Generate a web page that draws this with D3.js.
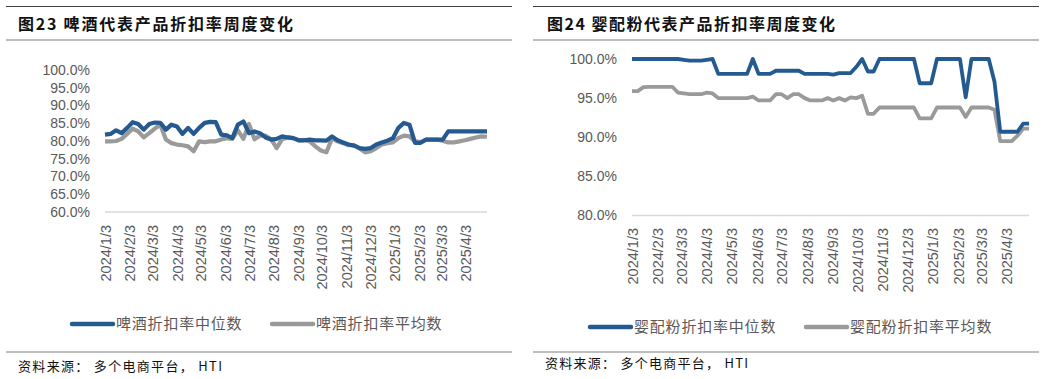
<!DOCTYPE html>
<html><head><meta charset="utf-8">
<script src="https://cdn.jsdelivr.net/npm/d3@7"></script>
<style>
body{margin:0;background:#fff;}
svg{display:block;}
</style></head><body>
<svg id="c" width="1045" height="379"></svg>
<script>
// ---- data ----
const weeks = [
"2024-01-03","2024-01-10","2024-01-17","2024-01-24","2024-01-31","2024-02-07","2024-02-14","2024-02-21","2024-02-28",
"2024-03-06","2024-03-13","2024-03-20","2024-03-27","2024-04-03","2024-04-10","2024-04-17","2024-04-24","2024-05-01",
"2024-05-08","2024-05-15","2024-05-22","2024-05-29","2024-06-05","2024-06-12","2024-06-19","2024-06-26","2024-07-03",
"2024-07-10","2024-07-17","2024-07-24","2024-07-31","2024-08-07","2024-08-14","2024-08-21","2024-08-28","2024-09-04",
"2024-09-11","2024-09-18","2024-09-25","2024-10-02","2024-10-09","2024-10-16","2024-10-23","2024-10-30","2024-11-06",
"2024-11-13","2024-11-20","2024-11-27","2024-12-04","2024-12-11","2024-12-18","2024-12-25","2025-01-01","2025-01-08",
"2025-01-15","2025-01-22","2025-01-29","2025-02-05","2025-02-12","2025-02-19","2025-02-26","2025-03-05","2025-03-12",
"2025-03-19","2025-03-26","2025-04-02","2025-04-09","2025-04-16","2025-04-23","2025-04-30"];

const tickDates = ["2024-01-03","2024-02-03","2024-03-03","2024-04-03","2024-05-03","2024-06-03","2024-07-03","2024-08-03",
"2024-09-03","2024-10-03","2024-11-03","2024-12-03","2025-01-03","2025-02-03","2025-03-03","2025-04-03"];
const tickLabels = ["2024/1/3","2024/2/3","2024/3/3","2024/4/3","2024/5/3","2024/6/3","2024/7/3","2024/8/3",
"2024/9/3","2024/10/3","2024/11/3","2024/12/3","2025/1/3","2025/2/3","2025/3/3","2025/4/3"];

const beerMedian = [81.8,82.0,83.0,82.2,83.7,85.3,84.8,83.2,84.8,85.2,85.1,83.2,84.6,84.1,82.0,83.7,82.0,83.7,85.1,85.4,
85.3,81.8,81.6,80.8,84.6,85.5,82.2,82.7,82.2,81.0,80.4,80.6,81.3,81.0,80.8,80.2,80.2,80.4,80.2,80.2,
80.1,81.3,80.2,79.6,79.0,78.7,78.0,77.8,78.0,79.0,79.6,80.1,80.8,83.7,85.1,84.6,79.5,79.5,80.4,80.4,
80.4,80.4,82.7,82.7,82.7,82.7,82.7,82.7,82.7,82.7];
const beerMean = [79.9,79.9,80.0,80.6,82.0,83.5,82.7,81.0,82.2,83.5,84.6,80.4,79.4,79.0,78.8,78.5,77.1,79.9,79.7,79.9,
79.9,80.4,80.8,80.6,83.0,80.6,84.8,80.5,81.5,81.5,80.5,78.0,80.5,81.0,80.8,80.2,80.3,79.9,78.5,77.3,
76.8,80.8,79.9,79.4,78.8,78.8,77.9,76.8,77.1,78.0,79.0,79.4,79.6,80.8,81.5,81.3,79.9,79.7,80.4,80.4,
80.4,80.1,79.6,79.6,79.9,80.2,80.6,81.0,81.3,81.2];

const infantMedian = [100,100,100,100,100,100,100,100,100,99.9,99.8,99.8,99.8,99.9,100,98.1,98.1,98.1,98.1,98.1,
98.1,100,98.1,98.1,98.1,98.5,98.5,98.5,98.5,98.5,98.1,98.1,98.1,98.1,98.1,98.0,98.2,98.2,98.2,99.0,
100,98.4,98.4,100,100,100,100,100,100,100,96.9,96.9,96.9,100,100,100,100,100,95.1,100,
100,100,100,97.1,90.7,90.7,90.7,90.7,91.75,91.75];
const infantMean = [95.9,95.9,96.4,96.45,96.45,96.45,96.45,96.45,95.7,95.6,95.5,95.5,95.5,95.7,95.6,95.0,95.0,95.0,95.0,95.0,
95.0,95.2,94.7,94.7,94.7,95.5,95.5,95.0,95.5,95.5,95.0,94.7,94.7,94.7,95.0,94.7,95.0,94.7,95.1,95.0,
95.3,93.0,93.0,93.8,93.8,93.8,93.8,93.8,93.8,93.8,92.4,92.4,92.4,93.8,93.8,93.8,93.8,93.8,92.6,93.8,
93.8,93.8,93.8,93.5,89.5,89.5,89.5,90.2,91.1,91.1];

const beerYTicks = [60,65,70,75,80,85,90,95,100];
const infantYTicks = [80,85,90,95,100];

const titles = ["图23 啤酒代表产品折扣率周度变化","图24 婴配粉代表产品折扣率周度变化"];
const beerLegend = ["啤酒折扣率中位数","啤酒折扣率平均数"];
const infantLegend = ["婴配粉折扣率中位数","婴配粉折扣率平均数"];
const sourceText = "资料来源： 多个电商平台，  HTI";

// ---- drawing ----
const svg = d3.select("#c");
const BLUE = "#255A91", GRAY = "#9A9A9A", TXT = "#595959";
const parse = d3.timeParse("%Y-%m-%d");
const CJK = "'Noto Sans CJK SC', sans-serif";
const LAT = "'Liberation Sans', Arial, sans-serif";

function panel(cfg){
  const g = svg.append("g");
  // frame rules
  g.append("line").attr("x1",cfg.fx0).attr("x2",cfg.fx1).attr("y1",6.5).attr("y2",6.5)
    .attr("stroke","#404040").attr("stroke-width",1);
  g.append("line").attr("x1",cfg.fx0).attr("x2",cfg.fx1).attr("y1",40).attr("y2",40)
    .attr("stroke","#a6a6a6").attr("stroke-width",1.5);
  g.append("line").attr("x1",cfg.fx0).attr("x2",cfg.fx1).attr("y1",352).attr("y2",352)
    .attr("stroke","#7f7f7f").attr("stroke-width",1);
  g.append("text").attr("x",cfg.titleX).attr("y",30).attr("font-family",CJK).attr("font-weight","bold")
    .attr("font-size",16).attr("fill","#111").attr("textLength",cfg.titleW).attr("lengthAdjust","spacing")
    .text(cfg.title);
  g.append("text").attr("x",cfg.srcX).attr("y",cfg.srcY).attr("font-family",CJK)
    .attr("font-size",13).attr("fill","#111").attr("textLength",cfg.srcW).attr("lengthAdjust","spacing")
    .text(sourceText);

  const x = d3.scaleTime().domain([parse(weeks[0]), parse(weeks[weeks.length-1])]).range([cfg.x0,cfg.x1]);
  const y = d3.scaleLinear().domain(cfg.ydom).range([cfg.y0,cfg.y1]);

  // baseline
  g.append("line").attr("x1",cfg.x0).attr("x2",cfg.x1).attr("y1",y(cfg.ydom[0])).attr("y2",y(cfg.ydom[0]))
    .attr("stroke","#d9d9d9").attr("stroke-width",1.3);

  // y axis
  const ya = d3.axisLeft(y).tickValues(cfg.yticks).tickSize(0).tickPadding(0).tickFormat(d=>d3.format(".1f")(d)+"%");
  const yg = g.append("g").attr("transform",`translate(${cfg.ylabX},0)`).call(ya);
  yg.select(".domain").remove();
  yg.selectAll("text").attr("font-family",LAT).attr("font-size",14).attr("fill",TXT);

  // x axis
  const xa = d3.axisBottom(x).tickValues(tickDates.map(parse)).tickSize(0)
    .tickFormat((d,i)=>tickLabels[i]);
  const xg = g.append("g").attr("transform",`translate(0,${cfg.xlabY})`).call(xa);
  xg.select(".domain").remove();
  xg.selectAll("text").attr("font-family",LAT).attr("font-size",14.5).attr("fill",TXT)
    .attr("text-anchor","end").attr("transform","rotate(-90)").attr("x",0).attr("y",0).attr("dy","0.35em");

  const line = d3.line().x((d,i)=>x(parse(weeks[i]))).y(d=>y(d));
  g.append("path").datum(cfg.s2).attr("d",line).attr("fill","none").attr("stroke",GRAY)
    .attr("stroke-width",cfg.sw).attr("stroke-linejoin","round");
  g.append("path").datum(cfg.s1).attr("d",line).attr("fill","none").attr("stroke",BLUE)
    .attr("stroke-width",cfg.sw).attr("stroke-linejoin","round");

  // legend
  const lg = [[BLUE,cfg.leg[0],cfg.lx[0]],[GRAY,cfg.leg[1],cfg.lx[1]]];
  lg.forEach(([c,t,lx])=>{
    g.append("line").attr("x1",lx).attr("x2",lx+41).attr("y1",cfg.ly).attr("y2",cfg.ly)
      .attr("stroke",c).attr("stroke-width",4.5).attr("stroke-linecap","round");
    g.append("text").attr("x",lx+44).attr("y",cfg.ly).attr("dy","0.36em").attr("font-family",CJK)
      .attr("font-size",15).attr("fill",TXT).attr("letter-spacing",0.8).text(t);
  });
}

panel({fx0:6,fx1:512,title:titles[0],titleX:18,titleW:275,srcX:18,srcY:371,srcW:204,
  x0:105,x1:487,y0:212,y1:70,ydom:[60,100],yticks:beerYTicks,ylabX:90,xlabY:225,
  s1:beerMedian,s2:beerMean,sw:4.2,leg:beerLegend,lx:[72,272],ly:324});
panel({fx0:533,fx1:1039,title:titles[1],titleX:547,titleW:288,srcX:545,srcY:368,srcW:203,
  x0:632,x1:1029,y0:215.5,y1:59,ydom:[80,100],yticks:infantYTicks,ylabX:617,xlabY:228,
  s1:infantMedian,s2:infantMean,sw:3.8,leg:infantLegend,lx:[590,806],ly:327});
</script>
</body></html>
